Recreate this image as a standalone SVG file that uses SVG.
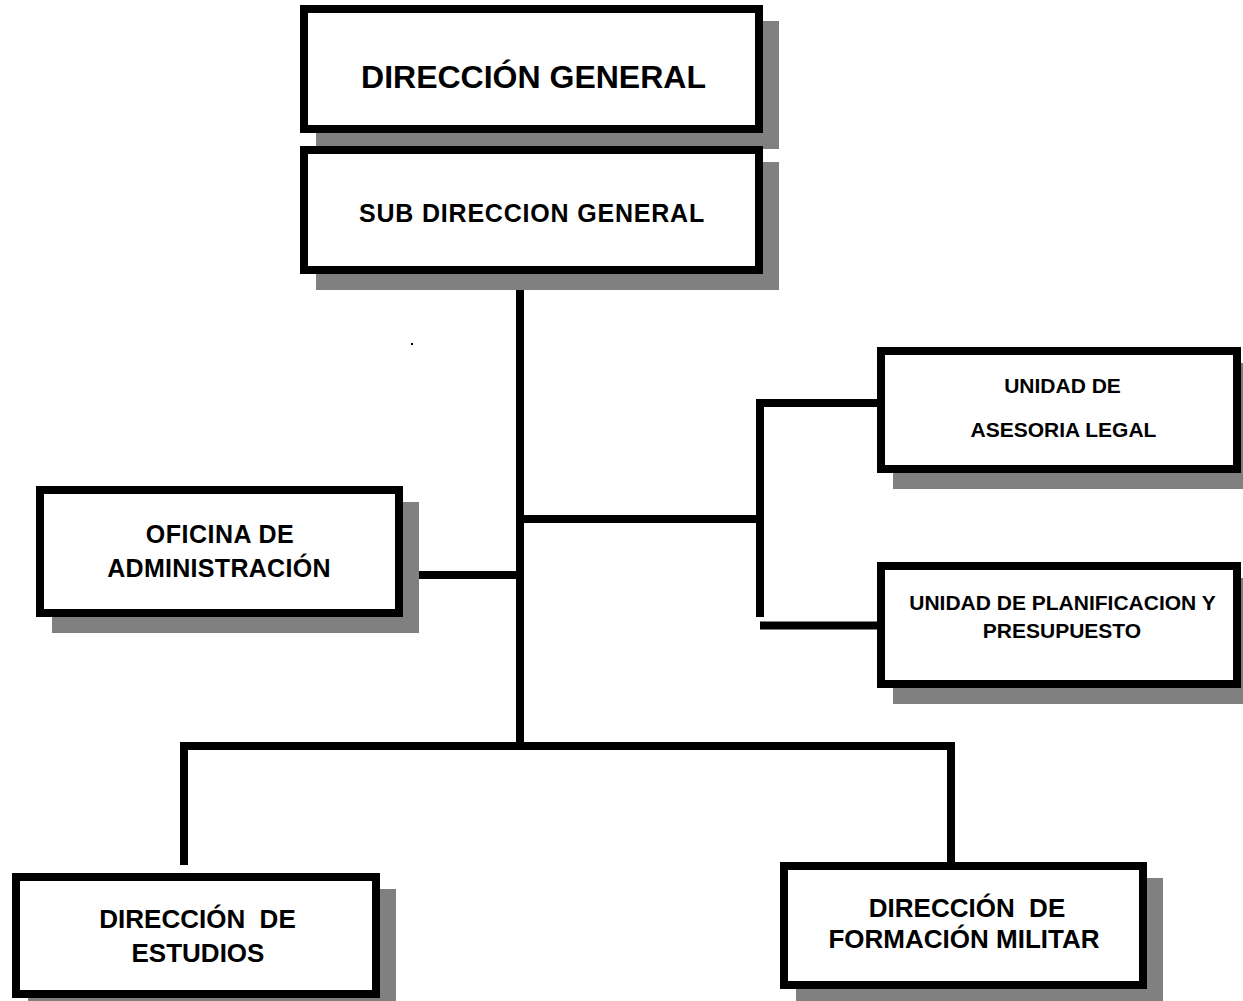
<svg xmlns="http://www.w3.org/2000/svg" width="1243" height="1001" viewBox="0 0 1243 1001">
<style>
.shadow{fill:#808080;stroke:none}
.box{fill:#fff;stroke:#000;stroke-width:8;stroke-linejoin:miter}
.t{font-family:"Liberation Sans",Arial,sans-serif;font-weight:bold;fill:#000;text-anchor:middle;white-space:pre}
.conn{fill:none;stroke:#000;stroke-width:8;stroke-linejoin:miter;stroke-linecap:butt}
</style>
<rect width="1243" height="1001" fill="#fff"/>
<g id="connectors">
<path class="conn" d="M520,290 V749"/>
<path class="conn" d="M184,865 V746 H951 V862"/>
<path class="conn" d="M403,575 H520"/>
<path class="conn" d="M520,519 H760"/>
<path class="conn" d="M760,617 V403 H877"/>
<path class="conn" d="M760,625.5 H877"/>
</g>
<g id="direccion-general">
<rect class="shadow" x="316" y="21" width="463" height="128"/>
<rect class="box" x="304" y="9" width="455" height="120"/>
<text class="t" x="533.5" y="88" font-size="32">DIRECCIÓN GENERAL</text>
</g>
<g id="sub-direccion-general">
<rect class="shadow" x="316" y="162" width="463" height="128"/>
<rect class="box" x="304" y="150" width="455" height="120"/>
<text class="t" x="532" y="222" font-size="25" letter-spacing="0.8">SUB DIRECCION GENERAL</text>
</g>
<g id="unidad-asesoria-legal">
<rect class="shadow" x="893" y="363" width="364" height="126"/>
<rect class="box" x="881" y="351" width="356" height="118"/>
<text class="t" x="1062.5" y="393" font-size="21">UNIDAD DE</text>
<text class="t" x="1063.5" y="437" font-size="21">ASESORIA LEGAL</text>
</g>
<g id="unidad-planificacion">
<rect class="shadow" x="893" y="578" width="364" height="126"/>
<rect class="box" x="881" y="566" width="356" height="118"/>
<text class="t" x="1062.5" y="610" font-size="21">UNIDAD DE PLANIFICACION Y</text>
<text class="t" x="1062" y="638" font-size="21">PRESUPUESTO</text>
</g>
<g id="oficina-administracion">
<rect class="shadow" x="52" y="502" width="367" height="131"/>
<rect class="box" x="40" y="490" width="359" height="123"/>
<text class="t" x="220" y="543" font-size="25" letter-spacing="0.5">OFICINA DE</text>
<text class="t" x="219" y="577" font-size="25" letter-spacing="0.3">ADMINISTRACIÓN</text>
</g>
<g id="direccion-estudios">
<rect class="shadow" x="28" y="889" width="368" height="125"/>
<rect class="box" x="16" y="877" width="360" height="117"/>
<text class="t" x="197.5" y="928" font-size="26">DIRECCIÓN  DE</text>
<text class="t" x="198" y="962" font-size="26">ESTUDIOS</text>
</g>
<g id="direccion-formacion-militar">
<rect class="shadow" x="796" y="878" width="367" height="127"/>
<rect class="box" x="784" y="866" width="359" height="119"/>
<text class="t" x="967" y="917" font-size="26">DIRECCIÓN  DE</text>
<text class="t" x="964" y="948" font-size="26">FORMACIÓN MILITAR</text>
</g>
<rect x="411" y="343" width="2" height="2" fill="#000"/>
</svg>
